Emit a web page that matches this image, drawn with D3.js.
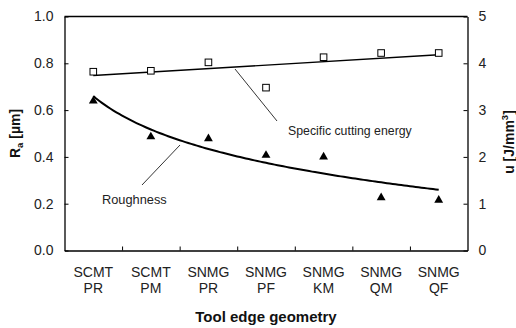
<!DOCTYPE html>
<html>
<head>
<meta charset="utf-8">
<script src="https://cdn.jsdelivr.net/npm/d3@7"></script>
<style>
  body { margin: 0; background: #fff; }
  svg { font-family: "Liberation Sans", Arial, sans-serif; }
</style>
</head>
<body>
<svg id="chart"></svg>
<script>
let geometries = [['SCMT', 'PR'], ['SCMT', 'PM'], ['SNMG', 'PR'], ['SNMG', 'PF'], ['SNMG', 'KM'], ['SNMG', 'QM'], ['SNMG', 'QF']]
let roughness = [0.641, 0.488, 0.480, 0.409, 0.402, 0.228, 0.217]
let energy = [3.82, 3.84, 4.02, 3.48, 4.13, 4.22, 4.22]
let leftTicks = [0, 0.2, 0.4, 0.6, 0.8, 1.0]
let rightTicks = [0, 1, 2, 3, 4, 5]

let width = 516
let height = 328
let plotLeft = 64.5
let plotRight = 467.5
let plotTop = 16.5
let plotBottom = 250.5

let svg = d3.select('#chart').attr('width', width).attr('height', height)

let xScale = d3.scaleBand()
    .domain(geometries.map((g, i) => i))
    .range([plotLeft, plotRight])

let yLeft = d3.scaleLinear().domain([0, 1]).range([plotBottom, plotTop])
let yRight = d3.scaleLinear().domain([0, 5]).range([plotBottom, plotTop])

let cx = (i) => xScale(i) + xScale.bandwidth() / 2

// frame top line
svg.append('line')
    .attr('x1', plotLeft).attr('x2', plotRight)
    .attr('y1', plotTop).attr('y2', plotTop)
    .attr('stroke', '#000').attr('stroke-width', 1.3)

// axes
let leftAxis = svg.append('g')
    .attr('transform', 'translate(' + plotLeft + ',0)')
    .call(d3.axisLeft(yLeft).tickValues(leftTicks).tickFormat(d3.format('.1f')).tickSizeInner(-4).tickSizeOuter(0).tickPadding(11))

let rightAxis = svg.append('g')
    .attr('transform', 'translate(' + plotRight + ',0)')
    .call(d3.axisRight(yRight).tickValues(rightTicks).tickFormat(d3.format('d')).tickSizeInner(-4).tickSizeOuter(0).tickPadding(11))

let bandEdges = d3.range(1, geometries.length).map((i) => plotLeft + i * xScale.bandwidth())
let xAxisScale = d3.scaleLinear().domain([plotLeft, plotRight]).range([plotLeft, plotRight])
let bottomAxis = svg.append('g')
    .attr('transform', 'translate(0,' + plotBottom + ')')
    .call(d3.axisBottom(xAxisScale).tickValues(bandEdges).tickFormat('').tickSizeInner(-4).tickSizeOuter(0))

;[leftAxis, rightAxis, bottomAxis].forEach((ax) => {
    ax.select('.domain').attr('stroke', '#000').attr('stroke-width', 1.3)
    ax.selectAll('.tick line').attr('stroke', '#000')
    ax.selectAll('.tick text').attr('font-size', 14).attr('fill', '#222')
})

// x category labels
geometries.forEach((g, i) => {
    let t = svg.append('text')
        .attr('x', cx(i))
        .attr('y', 277)
        .attr('text-anchor', 'middle')
        .attr('font-size', 14)
        .attr('fill', '#222')
    t.append('tspan').attr('x', cx(i)).text(g[0])
    t.append('tspan').attr('x', cx(i)).attr('dy', 16).text(g[1])
})

// axis titles
svg.append('text')
    .attr('x', (plotLeft + plotRight) / 2)
    .attr('y', 322)
    .attr('text-anchor', 'middle')
    .attr('font-size', 15)
    .attr('font-weight', 'bold')
    .attr('fill', '#111')
    .text('Tool edge geometry')

let ra = svg.append('text')
    .attr('transform', 'translate(20,' + (plotTop + plotBottom) / 2 + ') rotate(-90)')
    .attr('text-anchor', 'middle')
    .attr('font-size', 14)
    .attr('font-weight', 'bold')
    .attr('fill', '#111')
ra.append('tspan').text('R')
ra.append('tspan').attr('font-size', 9.5).attr('dy', 3).text('a')
ra.append('tspan').attr('dy', -3).text(' [\u00b5m]')

let uu = svg.append('text')
    .attr('transform', 'translate(514,142) rotate(-90)')
    .attr('text-anchor', 'middle')
    .attr('font-size', 14)
    .attr('font-weight', 'bold')
    .attr('fill', '#111')
uu.append('tspan').text('u [J/mm')
uu.append('tspan').attr('font-size', 9.5).attr('dy', -6).text('3')
uu.append('tspan').attr('dy', 6).text(']')

// trend lines from regression on the data
let n = geometries.length
let xs = d3.range(1, n + 1)

let linFit = (() => {
    let mx = d3.mean(xs), my = d3.mean(energy)
    let sxy = d3.sum(xs, (x, i) => (x - mx) * (energy[i] - my))
    let sxx = d3.sum(xs, (x) => (x - mx) * (x - mx))
    let b = sxy / sxx
    return (x) => my + b * (x - mx)
})()

let logFit = (() => {
    let lx = xs.map((x) => Math.log(x))
    let mx = d3.mean(lx), my = d3.mean(roughness)
    let sxy = d3.sum(lx, (x, i) => (x - mx) * (roughness[i] - my))
    let sxx = d3.sum(lx, (x) => (x - mx) * (x - mx))
    let b = sxy / sxx
    return (x) => my + b * (Math.log(x) - mx)
})()

let xPos = d3.scaleLinear().domain([1, n]).range([cx(0), cx(n - 1)])

svg.append('path')
    .attr('d', d3.line()([1, n].map((x) => [xPos(x), yRight(linFit(x))])))
    .attr('fill', 'none')
    .attr('stroke', '#000')
    .attr('stroke-width', 1.4)

svg.append('path')
    .attr('d', d3.line()(d3.range(1, n + 0.001, 0.05).map((x) => [xPos(x), yLeft(logFit(x))])))
    .attr('fill', 'none')
    .attr('stroke', '#000')
    .attr('stroke-width', 2)

// markers
svg.selectAll('.sq')
    .data(energy)
    .enter()
    .append('rect')
    .attr('x', (d, i) => cx(i) - 3.3)
    .attr('y', (d) => yRight(d) - 3.3)
    .attr('width', 6.6)
    .attr('height', 6.6)
    .attr('fill', '#fff')
    .attr('stroke', '#000')
    .attr('stroke-width', 1)

svg.selectAll('.tri')
    .data(roughness)
    .enter()
    .append('path')
    .attr('d', d3.symbol().type(d3.symbolTriangle).size(34))
    .attr('transform', (d, i) => 'translate(' + cx(i) + ',' + (yLeft(d) + 0.5) + ')')
    .attr('fill', '#000')

// annotations
svg.append('line')
    .attr('x1', 235).attr('y1', 69).attr('x2', 277).attr('y2', 121)
    .attr('stroke', '#000').attr('stroke-width', 0.8)
svg.append('text')
    .attr('x', 288).attr('y', 134.5)
    .attr('font-size', 12.3).attr('fill', '#222')
    .text('Specific cutting energy')

svg.append('line')
    .attr('x1', 180).attr('y1', 145).attr('x2', 142).attr('y2', 185)
    .attr('stroke', '#000').attr('stroke-width', 0.8)
svg.append('text')
    .attr('x', 102).attr('y', 203.5)
    .attr('font-size', 12.8).attr('fill', '#222')
    .text('Roughness')
</script>
</body>
</html>
